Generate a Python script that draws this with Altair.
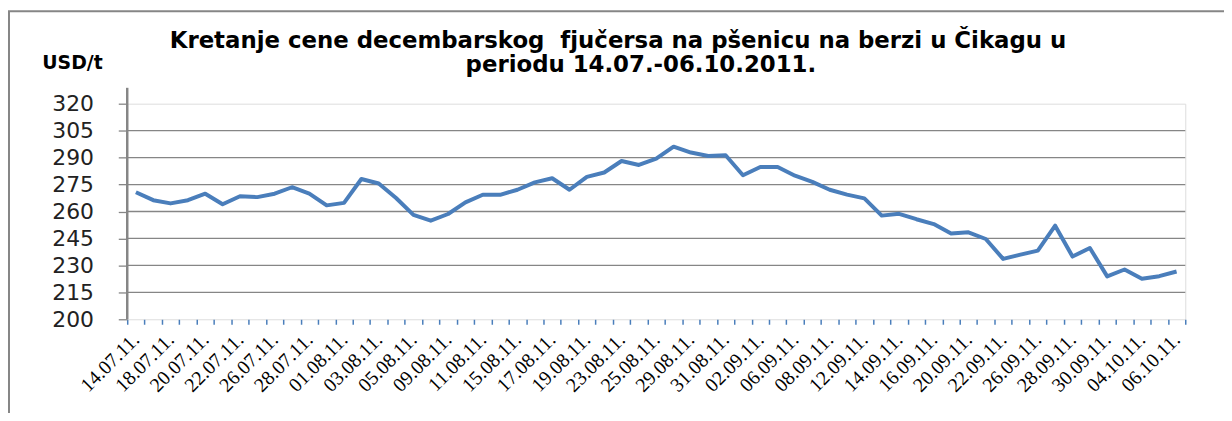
import json
import altair as alt
import pandas as pd

DATES = [
    "14.07.11.", "15.07.11.", "18.07.11.", "19.07.11.", "20.07.11.", "21.07.11.",
    "22.07.11.", "25.07.11.", "26.07.11.", "27.07.11.", "28.07.11.", "29.07.11.",
    "01.08.11.", "02.08.11.", "03.08.11.", "04.08.11.", "05.08.11.", "08.08.11.",
    "09.08.11.", "10.08.11.", "11.08.11.", "12.08.11.", "15.08.11.", "16.08.11.",
    "17.08.11.", "18.08.11.", "19.08.11.", "22.08.11.", "23.08.11.", "24.08.11.",
    "25.08.11.", "26.08.11.", "29.08.11.", "30.08.11.", "31.08.11.", "01.09.11.",
    "02.09.11.", "05.09.11.", "06.09.11.", "07.09.11.", "08.09.11.", "09.09.11.",
    "12.09.11.", "13.09.11.", "14.09.11.", "15.09.11.", "16.09.11.", "19.09.11.",
    "20.09.11.", "21.09.11.", "22.09.11.", "23.09.11.", "26.09.11.", "27.09.11.",
    "28.09.11.", "29.09.11.", "30.09.11.", "03.10.11.", "04.10.11.", "05.10.11.",
    "06.10.11.",
]

PRICES = [
    270.7, 266.3, 264.5, 266.3, 269.9, 264.0, 268.5, 268.0, 269.9, 273.5,
    270.0, 263.4, 264.8, 278.1, 275.6, 267.5, 258.1, 254.9, 258.6, 265.1,
    269.3, 269.3, 272.1, 276.2, 278.5, 272.1, 279.3, 281.7, 288.1, 285.9,
    289.4, 296.1, 292.8, 290.9, 291.3, 280.2, 284.8, 284.8, 279.9, 276.5,
    272.1, 269.4, 267.3, 257.7, 258.7, 255.7, 253.0, 247.8, 248.4, 244.7,
    233.6, 236.0, 238.2, 252.1, 234.9, 239.7, 223.9, 227.7, 222.6, 224.0,
    226.6,
]

X_LABELS = [
    "14.07.11.", "18.07.11.", "20.07.11.", "22.07.11.", "26.07.11.", "28.07.11.",
    "01.08.11.", "03.08.11.", "05.08.11.", "09.08.11.", "11.08.11.", "15.08.11.",
    "17.08.11.", "19.08.11.", "23.08.11.", "25.08.11.", "29.08.11.", "31.08.11.",
    "02.09.11.", "06.09.11.", "08.09.11.", "12.09.11.", "14.09.11.", "16.09.11.",
    "20.09.11.", "22.09.11.", "26.09.11.", "28.09.11.", "30.09.11.", "04.10.11.",
    "06.10.11.",
]

Y_TICKS = [200, 215, 230, 245, 260, 275, 290, 305, 320]
GRID_VALUES = [215, 230, 245, 260, 275, 290, 305]

TITLE = [
    "Kretanje cene decembarskog\u00a0 fjučersa na pšenicu na berzi u Čikagu u",
    "periodu 14.07.-06.10.2011.",
]

W, H = 1065, 217
GRAY = "#868686"
BLUE = "#4A7EBB"

df = pd.DataFrame({"datum": DATES, "cena": PRICES})
grid_df = pd.DataFrame({"cena": GRID_VALUES})
one = pd.DataFrame({"a": [0]})

label_expr = (
    "indexof(" + json.dumps(X_LABELS) + ", datum.value) >= 0 ? datum.value : ''"
)

x_enc = alt.X(
    "datum:O",
    sort=DATES,
    bandPosition=0.5,
    scale=alt.Scale(type="band", paddingInner=0, paddingOuter=0),
    axis=alt.Axis(
        title=None,
        domain=False,
        ticks=True,
        tickBand="extent",
        tickColor=BLUE,
        tickWidth=1.5,
        tickSize=5,
        labelAngle=-45,
        labelAlign="right",
        labelBaseline="middle",
        labelPadding=12,
        labelFont="Liberation Serif",
        labelFontSize=20,
        labelColor="#000000",
        labelOverlap=False,
        labelExpr=label_expr,
        grid=False,
    ),
)

y_scale = alt.Scale(domain=[200, 320], nice=False, zero=False)

y_axis = alt.Axis(
    values=Y_TICKS,
    title="USD/t",
    titleAngle=0,
    titleAlign="left",
    titleBaseline="middle",
    titleX=-86,
    titleY=-41,
    titleFont="DejaVu Sans",
    titleFontSize=19,
    titleFontWeight="bold",
    titleColor="#000000",
    domain=False,
    ticks=True,
    tickColor=GRAY,
    tickWidth=1.3,
    tickSize=9,
    labelFont="DejaVu Sans",
    labelFontSize=22,
    labelColor="#222222",
    labelPadding=25,
    labelOverlap=False,
    labelBound=False,
    grid=False,
)

line = alt.Chart(df).mark_line(color=BLUE, strokeWidth=4, strokeJoin="round").encode(
    x=x_enc,
    y=alt.Y("cena:Q", scale=y_scale, axis=y_axis),
)

grid = alt.Chart(grid_df).mark_rule(color=GRAY, strokeWidth=1.3).encode(
    y=alt.Y("cena:Q", scale=y_scale, axis=y_axis)
)

y_axis_line = alt.Chart(one).mark_rule(color=GRAY, strokeWidth=2.5).encode(
    x=alt.value(0), y=alt.value(-16), y2=alt.value(H)
)

frame_left = alt.Chart(one).mark_rule(color=GRAY, strokeWidth=2).encode(
    x=alt.value(-119), y=alt.value(-93), y2=alt.value(320)
)
frame_top = alt.Chart(one).mark_rule(color=GRAY, strokeWidth=2).encode(
    x=alt.value(-120), x2=alt.value(W + 40), y=alt.value(-93)
)

title1 = alt.Chart(one).mark_text(
    font="DejaVu Sans", fontSize=23, fontWeight="bold", color="#000000",
    align="center", baseline="middle",
).encode(x=alt.value(494), y=alt.value(-63), text=alt.value(TITLE[0]))

title2 = alt.Chart(one).mark_text(
    font="DejaVu Sans", fontSize=23, fontWeight="bold", color="#000000",
    align="center", baseline="middle",
).encode(x=alt.value(517), y=alt.value(-39), text=alt.value(TITLE[1]))

chart = (
    alt.layer(grid, y_axis_line, frame_left, frame_top, title1, title2, line)
    .properties(
        width=W,
        height=H,
        autosize=alt.AutoSizeParams(type="none"),
        padding={"left": 120, "top": 95, "right": 39, "bottom": 93},
    )
    .configure_view(stroke="transparent", strokeWidth=0)
    .configure(background="white")
)

chart.save("out.html", embed_options={"renderer": "svg", "actions": False})
